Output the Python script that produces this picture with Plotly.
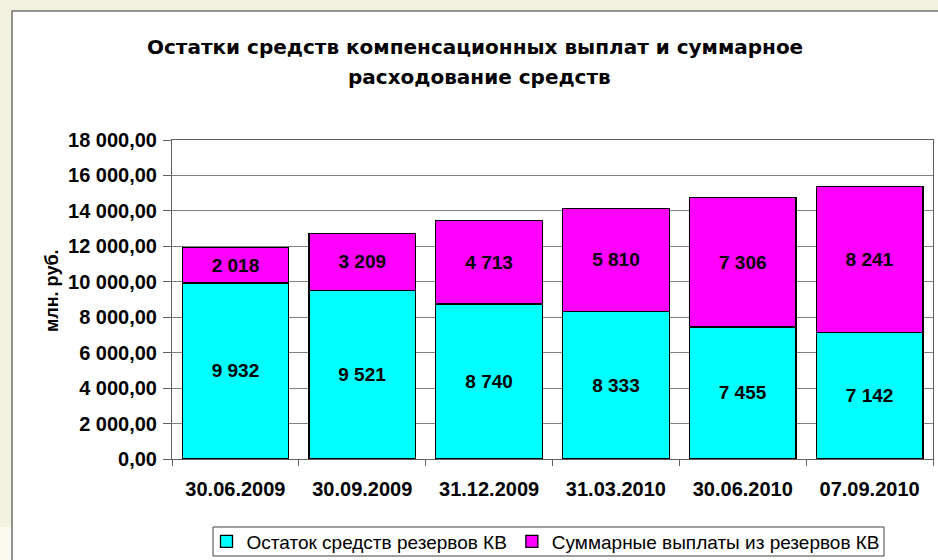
import plotly.graph_objects as go

categories = ["30.06.2009", "30.09.2009", "31.12.2009", "31.03.2010", "30.06.2010", "07.09.2010"]
ostatok = [9932, 9521, 8740, 8333, 7455, 7142]
vyplaty = [2018, 3209, 4713, 5810, 7306, 8241]
y_ticks = [0, 2000, 4000, 6000, 8000, 10000, 12000, 14000, 16000, 18000]
title_lines = ["Остатки средств компенсационных выплат и суммарное", "расходование средств"]
y_title = "млн. руб."

W, H = 938, 560
L, R, T, B = 172, 5, 140, 101
pw, ph = W - L - R, H - T - B

def px(x):
    return (x - L) / pw

def py(y):
    return (H - B - y) / ph

label_font = dict(family="Arial, Liberation Sans", size=19, color="#000000", weight="bold")

fig = go.Figure()
fig.add_trace(go.Bar(
    x=categories, y=ostatok, name="Остаток средств резервов КВ",
    marker=dict(color="#00FFFF", line=dict(color="#000000", width=1.3)),
    texttemplate="%{y:,.0f}", textposition="inside", insidetextanchor="middle",
    textfont=label_font,
))
fig.add_trace(go.Bar(
    x=categories, y=vyplaty, name="Суммарные выплаты из резервов КВ",
    marker=dict(color="#FF00FF", line=dict(color="#000000", width=1.3)),
    texttemplate="%{y:,.0f}", textposition="inside", insidetextanchor="middle",
    textfont=label_font,
))

fig.update_layout(
    width=W, height=H,
    barmode="stack", bargap=0.16,
    separators=", ",
    paper_bgcolor="#F3F2DE",
    plot_bgcolor="#FFFFCC",
    margin=dict(l=L, r=R, t=T, b=B, autoexpand=False),
    font=dict(family="Arial, Liberation Sans", color="#000000"),
    showlegend=True,
    legend=dict(
        orientation="h", x=px(546), xanchor="center", xref="paper",
        y=py(541.5), yanchor="middle",
        borderwidth=0, bgcolor="rgba(0,0,0,0)",
        font=dict(size=19), traceorder="normal",
        itemwidth=30, tracegroupgap=0,
    ),
    uniformtext=dict(mode=False),
    shapes=[
        dict(type="rect", xref="paper", yref="paper", layer="below",
             x0=px(0), x1=px(12), y0=py(562), y1=py(527),
             fillcolor="#FAFAF0", line=dict(width=0)),
        dict(type="rect", xref="paper", yref="paper", layer="below",
             x0=px(12), x1=px(945), y0=py(570), y1=py(11),
             fillcolor="#FFFFFF", line=dict(color="#707070", width=1.5)),
        dict(type="rect", xref="paper", yref="paper", layer="below",
             x0=px(213), x1=px(884), y0=py(556), y1=py(527),
             fillcolor="#FFFFFF", line=dict(color="#404040", width=1)),
    ],
    annotations=[
        dict(text=title_lines[0], xref="paper", yref="paper", x=px(475), y=py(47),
             xanchor="center", yanchor="middle", showarrow=False,
             font=dict(family="DejaVu Sans", size=20, weight="bold", color="#000000")),
        dict(text=title_lines[1], xref="paper", yref="paper", x=px(479), y=py(77),
             xanchor="center", yanchor="middle", showarrow=False,
             font=dict(family="DejaVu Sans", size=20, weight="bold", color="#000000")),
        dict(text=y_title, xref="paper", yref="paper", x=px(52), y=py(291),
             xanchor="center", yanchor="middle", showarrow=False, textangle=-90,
             font=dict(size=18, weight="bold", color="#000000")),
    ],
)

fig.update_xaxes(
    type="category", tickson="boundaries", ticks="outside", ticklen=6,
    tickcolor="#606060", showline=True, linecolor="#606060", linewidth=1,
    mirror=True, showgrid=False, ticklabelstandoff=12,
    tickfont=dict(size=20, weight="bold"),
)
fig.update_yaxes(
    range=[0, 18000], tickvals=y_ticks, tickformat=",.2f",
    ticks="outside", ticklen=8, tickcolor="#606060",
    showline=True, linecolor="#606060", linewidth=1, mirror=True,
    showgrid=True, gridcolor="#808080", gridwidth=1, ticklabelstandoff=2,
    tickfont=dict(size=20, weight="bold"),
)

fig.write_html(
    "out.html",
    config={"displayModeBar": False},
    post_script="document.body.style.margin='0';document.body.style.background='#F3F2DE';",
)
